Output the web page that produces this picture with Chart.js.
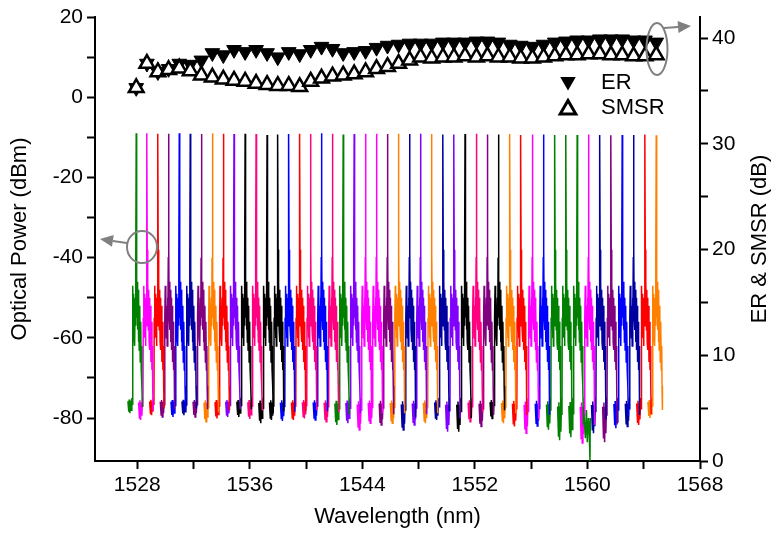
<!DOCTYPE html>
<html>
<head>
<meta charset="utf-8">
<script src="https://cdn.jsdelivr.net/npm/chart.js@4.4.1/dist/chart.umd.min.js"></script>
<style>
  html, body { margin: 0; padding: 0; background: #fff; }
</style>
</head>
<body>
<canvas id="chart" width="772" height="533"></canvas>
<script>
// channel peak wavelengths (nm)
const peakWavelengths = [
  1527.93, 1528.69, 1529.47, 1530.23, 1530.99, 1531.77, 1532.56, 1533.34,
  1534.12, 1534.88, 1535.67, 1536.45, 1537.23, 1537.99, 1538.77, 1539.55,
  1540.33, 1541.10, 1541.88, 1542.64, 1543.42, 1544.23, 1545.01, 1545.79,
  1546.58, 1547.36, 1548.14, 1548.93, 1549.73, 1550.51, 1551.30, 1552.11,
  1552.89, 1553.67, 1554.48, 1555.26, 1556.09, 1556.88, 1557.68, 1558.47,
  1559.27, 1560.08, 1560.88, 1561.67, 1562.47, 1563.28, 1564.09, 1564.89
];
const channelColors = [
  '#008000', '#ff00ff', '#ff0000', '#800080', '#0000ff', '#0000a0', '#800080', '#ff8000',
  '#ff0000', '#8000ff', '#000000', '#ff0080', '#000000', '#000000', '#0000ff', '#ff0000',
  '#ff0080', '#0000ff', '#ff0080', '#008000', '#8000ff', '#ff00ff', '#ff00ff', '#800080',
  '#ff8000', '#0000a0', '#8000ff', '#ff8000', '#0000a0', '#8000ff', '#000000', '#ff0080',
  '#800080', '#000000', '#ff8000', '#ff0000', '#ff00ff', '#0000ff', '#008000', '#008000',
  '#008000', '#ff00ff', '#0000a0', '#800080', '#0000ff', '#0000a0', '#ff0000', '#ff8000'
];
// peak power of each channel (dBm)
const peakPower = [
  -9.0, -9.0, -9.1, -9.1, -9.0, -9.1, -9.2, -9.0,
  -9.1, -9.2, -9.1, -9.2, -9.4, -9.3, -9.2, -9.1,
  -9.2, -9.0, -9.1, -9.3, -9.2, -9.1, -9.1, -9.2,
  -9.1, -9.2, -9.1, -9.2, -9.3, -9.3, -9.2, -9.1,
  -9.3, -9.3, -9.2, -9.4, -9.3, -9.3, -9.4, -9.4,
  -9.4, -9.3, -9.4, -9.5, -9.4, -9.4, -9.3, -9.5
];
// deepest point of the noise floor next to each channel (dBm)
const floorLow = [
  -78.8, -80.5, -79.3, -79.7, -79.7, -79.3, -79.7, -80.9,
  -80.1, -79.7, -79.7, -80.2, -81.3, -80.5, -80.7, -80.5,
  -80.1, -80.5, -80.9, -81.7, -81.3, -83.0, -81.3, -81.7,
  -81.3, -83.0, -81.7, -81.3, -80.5, -83.4, -83.4, -80.9,
  -82.1, -80.1, -81.3, -82.1, -83.8, -82.0, -82.9, -85.5,
  -84.8, -86.2, -83.8, -86.0, -82.5, -82.1, -81.7, -80.0
];
// typical single-channel spectrum shape: offset from peak (nm) and level (dBm), null = peak
const shapeOffsets = [
  -0.59, -0.53, -0.50, -0.45, -0.40, -0.36, -0.31, -0.28, -0.26, -0.235, -0.21, -0.185,
  -0.157, -0.128, -0.10, -0.071, -0.043, -0.021, 0, 0.021, 0.043, 0.071, 0.10, 0.128,
  0.157, 0.185, 0.21, 0.25, 0.285, 0.32, 0.356, 0.39, 0.41, 0.44
];
const shapeLevels = [
  -76, -79.5, -75.5, -80, -76, -79, -75, -77, -55, -47, -58, -49,
  -60, -52, -62, -50, -57, -40, null, -38, -55, -46, -58, -48,
  -61, -50, -63, -52, -66, -56, -68, -62, -72, -78
];
// extra noisy tail seen after channel 41 (index 40)
const tailChannel = 40;
const tailOffsets = [0.50, 0.58, 0.66, 0.72, 0.80, 0.86, 0.91, 0.93];
const tailLevels = [-80, -85, -78, -86, -80, -84, -90.7, -80];

// extinction ratio and side-mode suppression ratio per channel (dB)
const erValues = [
  35.3, 37.6, 36.8, 37.1, 37.6, 37.5, 37.9, 38.6,
  38.4, 38.9, 38.7, 38.9, 38.6, 38.2, 38.7, 38.5,
  38.9, 39.2, 39.0, 38.6, 38.7, 38.8, 39.1, 39.3,
  39.4, 39.5, 39.5, 39.5, 39.6, 39.6, 39.6, 39.7,
  39.7, 39.6, 39.4, 39.3, 39.2, 39.4, 39.6, 39.7,
  39.8, 39.8, 39.9, 39.9, 39.9, 39.8, 39.8, 39.6
];
const smsrValues = [
  35.3, 37.6, 36.8, 37.0, 37.15, 36.9, 36.5, 36.3,
  36.1, 36.0, 35.9, 35.7, 35.6, 35.5, 35.5, 35.4,
  35.9, 36.2, 36.4, 36.5, 36.6, 36.8, 37.1, 37.3,
  37.6, 37.9, 38.2, 38.1, 38.2, 38.2, 38.3, 38.2,
  38.3, 38.2, 38.2, 38.1, 38.1, 38.2, 38.3, 38.4,
  38.4, 38.5, 38.5, 38.4, 38.4, 38.3, 38.3, 38.4
];

// axis ticks
const xTicks = [1528, 1532, 1536, 1540, 1544, 1548, 1552, 1556, 1560, 1564, 1568];
const xLabels = [1528, 1536, 1544, 1552, 1560, 1568];
const powerTicks = [-80, -70, -60, -50, -40, -30, -20, -10, 0, 10, 20];
const powerLabels = [-80, -60, -40, -20, 0, 20];
const ratioTicks = [0, 5, 10, 15, 20, 25, 30, 35, 40];
const ratioLabels = [0, 10, 20, 30, 40];

const FONT = "'Liberation Sans', Arial, sans-serif";

const spectra = peakWavelengths.map((wl, i) => {
  const depth = (floorLow[i] + 75) / -5;
  const pts = shapeOffsets.map((off, k) => {
    const lvl = shapeLevels[k];
    let y;
    if (lvl === null) y = peakPower[i];
    else if (lvl <= -75) y = -75 + (lvl + 75) * depth;
    else y = lvl;
    return { x: wl + off, y: y };
  });
  if (i === tailChannel) {
    tailOffsets.forEach((off, k) => pts.push({ x: wl + off, y: tailLevels[k] }));
  }
  return {
    data: pts,
    showLine: true,
    borderColor: channelColors[i],
    backgroundColor: channelColors[i],
    borderWidth: 1.5,
    pointRadius: 0,
    yAxisID: 'y'
  };
});

const smsrSet = {
  data: peakWavelengths.map((wl, i) => ({ x: wl, y: smsrValues[i] })),
  yAxisID: 'y2',
  pointStyle: 'triangle',
  pointRadius: 8.5,
  backgroundColor: '#ffffff',
  borderColor: '#000000',
  borderWidth: 2.5
};
const erSet = {
  data: peakWavelengths.map((wl, i) => ({ x: wl, y: erValues[i] })),
  yAxisID: 'y2',
  pointStyle: 'triangle',
  rotation: 180,
  pointRadius: 8.5,
  backgroundColor: '#000000',
  borderColor: '#000000',
  borderWidth: 1
};

function tri(ctx, x, y, r, down) {
  const s = down ? -1 : 1;
  ctx.beginPath();
  ctx.moveTo(x, y - s * r);
  ctx.lineTo(x + 0.866 * r, y + s * r / 2);
  ctx.lineTo(x - 0.866 * r, y + s * r / 2);
  ctx.closePath();
}

function arrow(ctx, x1, y1, x2, y2) {
  const a = Math.atan2(y2 - y1, x2 - x1);
  const len = 13, half = 6;
  const bx = x2 - Math.cos(a) * len, by = y2 - Math.sin(a) * len;
  ctx.beginPath();
  ctx.moveTo(x1, y1);
  ctx.lineTo(bx, by);
  ctx.stroke();
  ctx.beginPath();
  ctx.moveTo(x2, y2);
  ctx.lineTo(bx + Math.sin(a) * half, by - Math.cos(a) * half);
  ctx.lineTo(bx - Math.sin(a) * half, by + Math.cos(a) * half);
  ctx.closePath();
  ctx.fill();
}

const overlay = {
  id: 'overlay',
  afterDraw(chart) {
    const ctx = chart.ctx;
    ctx.save();
    // right axis title, reading upward
    ctx.fillStyle = '#000';
    ctx.font = '22px ' + FONT;
    ctx.textAlign = 'center';
    ctx.textBaseline = 'middle';
    ctx.translate(760, 239);
    ctx.rotate(-Math.PI / 2);
    ctx.fillText('ER & SMSR (dB)', 0, 0);
    ctx.restore();

    // legend
    ctx.save();
    ctx.fillStyle = '#000';
    ctx.strokeStyle = '#000';
    tri(ctx, 568, 81.5, 9, true);
    ctx.fill();
    tri(ctx, 568, 109.5, 9, false);
    ctx.fillStyle = '#fff';
    ctx.fill();
    ctx.lineWidth = 3;
    ctx.stroke();
    ctx.fillStyle = '#000';
    ctx.font = '22px ' + FONT;
    ctx.textAlign = 'left';
    ctx.textBaseline = 'middle';
    ctx.fillText('ER', 601, 83);
    ctx.fillText('SMSR', 601, 108);
    ctx.restore();

    // grey markers pointing at the axes
    ctx.save();
    ctx.strokeStyle = '#808080';
    ctx.fillStyle = '#808080';
    ctx.lineWidth = 2;
    ctx.beginPath();
    ctx.ellipse(142, 247, 15, 16, 0, 0, Math.PI * 2);
    ctx.stroke();
    arrow(ctx, 127, 243, 100, 239);
    ctx.beginPath();
    ctx.ellipse(657, 49, 10.5, 26, 0, 0, Math.PI * 2);
    ctx.stroke();
    arrow(ctx, 664, 28, 691, 26);
    ctx.restore();
  }
};

const axisFont = { family: FONT, size: 21 };
const titleFont = { family: FONT, size: 22 };
const gridOpts = { drawOnChartArea: false, drawTicks: true, tickLength: 8, tickWidth: 2, tickColor: '#000' };
const borderOpts = { display: true, width: 2, color: '#000' };

new Chart(document.getElementById('chart').getContext('2d'), {
  type: 'scatter',
  data: { datasets: [smsrSet, erSet].concat(spectra) },
  options: {
    responsive: false,
    animation: false,
    devicePixelRatio: 1,
    layout: { padding: { top: 17, left: 0, right: 0, bottom: 0 } },
    plugins: { legend: { display: false }, tooltip: { enabled: false } },
    scales: {
      x: {
        type: 'linear',
        position: 'bottom',
        min: 1525,
        max: 1568,
        afterBuildTicks: s => { s.ticks = xTicks.map(v => ({ value: v })); },
        afterFit: s => { s.height = 72; },
        ticks: {
          autoSkip: false, maxRotation: 0, color: '#000', font: axisFont, padding: 4,
          callback: v => xLabels.includes(v) ? String(v) : ''
        },
        grid: gridOpts,
        border: borderOpts,
        title: { display: true, text: 'Wavelength (nm)', color: '#000', font: titleFont, padding: { top: 0, bottom: 3 } }
      },
      y: {
        type: 'linear',
        position: 'left',
        min: -90.7,
        max: 20,
        afterBuildTicks: s => { s.ticks = powerTicks.map(v => ({ value: v })); },
        afterFit: s => { s.width = 95; },
        ticks: {
          autoSkip: false, color: '#000', font: axisFont, padding: 4,
          callback: v => powerLabels.includes(v) ? String(v) : ''
        },
        grid: gridOpts,
        border: borderOpts,
        title: { display: true, text: 'Optical Power (dBm)', color: '#000', font: titleFont, padding: { top: 7, bottom: 0 } }
      },
      y2: {
        type: 'linear',
        position: 'right',
        min: 0,
        max: 42,
        afterBuildTicks: s => { s.ticks = ratioTicks.map(v => ({ value: v })); },
        afterFit: s => { s.width = 72; },
        ticks: {
          autoSkip: false, color: '#000', font: axisFont, padding: 4,
          callback: v => ratioLabels.includes(v) ? String(v) : ''
        },
        grid: gridOpts,
        border: borderOpts
      }
    }
  },
  plugins: [overlay]
});
</script>
</body>
</html>
